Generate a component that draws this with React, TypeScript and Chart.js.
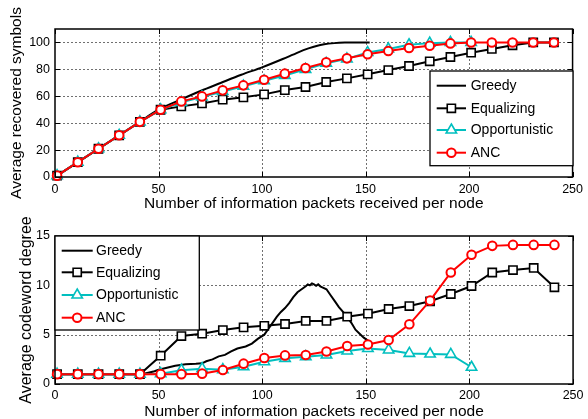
import React, { useEffect, useRef } from 'react';
import { Chart, registerables } from 'chart.js';

Chart.register(...registerables);

// ---------------- data ----------------
const xMarks = [1, 11, 21, 31, 41, 51, 61, 71, 81, 91, 101, 111, 121, 131, 141, 151, 161, 171, 181, 191, 201, 211, 221, 231, 241];
const xMarksOpp = [1, 11, 21, 31, 41, 51, 61, 71, 81, 91, 101, 111, 121, 131, 141, 151, 161, 171, 181, 191, 201];

const seriesNames = ['Greedy', 'Equalizing', 'Opportunistic', 'ANC'];

// top panel: average recovered symbols
const topEqualizing = [1, 11, 21, 31, 41, 50, 52.5, 54.7, 57.5, 59.2, 61.4, 64.6, 66.9, 70.6, 73.3, 76.3, 79.5, 82.5, 86, 89.2, 92.4, 95.2, 97.9, 100, 100];
const topOpportunistic = [1, 11, 21, 31, 41, 50, 55.5, 59.5, 63.5, 67.5, 71.5, 75.5, 80, 84.5, 87.8, 92.5, 95.2, 98.3, 99.5, 100, 100];
const topANC = [1, 11, 21, 31, 41, 50, 56.2, 59.9, 64.4, 68.1, 72.3, 76.8, 81, 85.2, 88.2, 91.2, 93.7, 95.9, 97.6, 99.3, 100, 100, 100, 100, 100];
const topGreedyX = [1, 10, 20, 30, 40, 50, 60, 70, 80, 90, 100, 110, 115, 120, 125, 130, 135, 140, 145, 152];
const topGreedyY = [1, 10, 20, 30, 40, 50, 57, 63.7, 69.9, 76, 81.5, 87.7, 91, 94.3, 96.8, 98.6, 99.5, 99.9, 100, 100];

// bottom panel: average codeword degree
const botEqualizing = [1, 1, 1, 1, 1, 2.87, 4.86, 5.1, 5.47, 5.74, 5.9, 6.08, 6.39, 6.39, 6.82, 7.13, 7.6, 7.9, 8.38, 9.12, 9.93, 11.3, 11.55, 11.76, 9.8];
const botOpportunistic = [1, 1, 1, 1, 1, 1.05, 1.4, 1.55, 1.45, 1.75, 2.26, 2.6, 2.77, 2.94, 3.34, 3.6, 3.45, 3.1, 3.04, 3.0, 1.7];
const botANC = [1, 1, 1, 1, 1, 1, 1, 1.05, 1.42, 2.06, 2.64, 2.9, 2.94, 3.3, 3.85, 4.0, 4.46, 6.05, 8.45, 11.3, 13.1, 14.0, 14.1, 14.1, 14.1];
const botGreedyX = [1, 10, 20, 30, 40, 42, 45, 48, 50, 54, 58, 63, 68, 71, 73, 76, 79, 82, 85, 88, 92, 95, 98, 101, 103, 105, 107, 109, 111, 113, 115, 117, 119, 121, 122, 123, 124, 125, 126, 127, 128, 129, 131, 133, 135, 137, 139, 141, 143, 145, 147, 149, 151, 152];
const botGreedyY = [1, 1, 1, 1, 1, 1, 1.15, 1.3, 1.45, 1.65, 1.85, 2.0, 2.05, 2.1, 2.3, 2.5, 2.8, 2.95, 3.3, 3.6, 3.8, 4.1, 4.6, 5.0, 5.6, 6.2, 6.8, 7.3, 7.7, 8.2, 8.8, 9.3, 9.6, 9.9, 10.1, 10.0, 10.2, 10.1, 9.95, 10.1, 9.9, 9.8, 9.6, 9.0, 8.4, 7.8, 7.3, 6.8, 6.2, 5.5, 5.1, 4.7, 4.4, 4.3];

const xTicks = [0, 50, 100, 150, 200, 250];
const topYTicks = [0, 20, 40, 60, 80, 100];
const botYTicks = [0, 5, 10, 15];

const xTitle = 'Number of information packets received per node';
const topYTitle = 'Average recovered symbols';
const botYTitle = 'Average codeword degree';

// ---------------- styles ----------------
const FONT = "'Liberation Sans', Arial, Helvetica, sans-serif";
const BLACK = '#000000';
const CYAN = '#00bfbf';
const RED = '#ff0000';

type Style = { color: string; marker: string | false; radius: number; mWidth: number };
const styles: Style[] = [
  { color: BLACK, marker: false, radius: 0, mWidth: 0 },
  { color: BLACK, marker: 'rect', radius: 5.8, mWidth: 1.6 },
  { color: CYAN, marker: 'triangle', radius: 6, mWidth: 1.6 },
  { color: RED, marker: 'circle', radius: 4.3, mWidth: 2 },
];

const pts = (xs: number[], ys: number[]) => xs.map((x, i) => ({ x, y: ys[i] }));

function makeDataset(idx: number, data: { x: number; y: number }[], tension = 0) {
  const s = styles[idx];
  return {
    label: seriesNames[idx],
    data,
    order: 3 - idx,
    borderColor: s.color,
    borderWidth: 2,
    backgroundColor: '#ffffff',
    pointStyle: s.marker || 'circle',
    pointRadius: s.marker ? s.radius : 0,
    pointBorderWidth: s.mWidth,
    pointBorderColor: s.color,
    pointBackgroundColor: '#ffffff',
    tension,
    cubicInterpolationMode: tension ? 'monotone' : 'default',
    clip: false,
    fill: false,
  };
}

function drawMarker(ctx: CanvasRenderingContext2D, s: Style, x: number, y: number) {
  if (!s.marker) return;
  ctx.save();
  ctx.lineWidth = s.mWidth;
  ctx.strokeStyle = s.color;
  ctx.fillStyle = '#ffffff';
  ctx.setLineDash([]);
  ctx.beginPath();
  const r = s.radius;
  if (s.marker === 'circle') {
    ctx.arc(x, y, r, 0, Math.PI * 2);
  } else if (s.marker === 'rect') {
    const h = r * Math.SQRT1_2;
    ctx.rect(x - h, y - h, 2 * h, 2 * h);
  } else if (s.marker === 'triangle') {
    for (let k = 0; k < 3; k++) {
      const a = (k * 2 * Math.PI) / 3;
      const px = x + Math.sin(a) * r;
      const py = y - Math.cos(a) * r;
      if (k === 0) ctx.moveTo(px, py);
      else ctx.lineTo(px, py);
    }
    ctx.closePath();
  }
  ctx.fill();
  ctx.stroke();
  ctx.restore();
}

type LegendCfg = { left: number; top: number; right: number; bottom: number; rows: number[]; x1: number; x2: number; tx: number };

function drawGrid(chart: any, xs: number[], ys: number[]) {
  const { ctx, chartArea: a, scales } = chart;
  ctx.save();
  ctx.globalCompositeOperation = 'destination-over';
  ctx.strokeStyle = '#707070';
  ctx.lineWidth = 1;
  ctx.setLineDash([2, 2]);
  ctx.beginPath();
  for (const v of xs) {
    const px = Math.round(scales.x.getPixelForValue(v)) + 0.5;
    if (px <= a.left + 1 || px >= a.right - 1) continue;
    ctx.moveTo(px, a.bottom);
    ctx.lineTo(px, a.top);
  }
  for (const v of ys) {
    const py = Math.round(scales.y.getPixelForValue(v)) + 0.5;
    if (py <= a.top + 1 || py >= a.bottom - 1) continue;
    ctx.moveTo(a.left, py);
    ctx.lineTo(a.right, py);
  }
  ctx.stroke();
  ctx.restore();
}

const framePlugin = {
  id: 'matlabFrame',
  afterDraw(chart: any, _args: any, opts: any) {
    drawGrid(chart, xTicks, opts.yTickList);
    const { ctx, chartArea: a, scales } = chart;
    ctx.save();
    ctx.globalCompositeOperation = 'source-over';
    ctx.setLineDash([]);
    ctx.strokeStyle = BLACK;
    ctx.lineWidth = 1;
    const tl = 5;
    ctx.beginPath();
    for (const v of xTicks) {
      const px = Math.round(scales.x.getPixelForValue(v)) + 0.5;
      ctx.moveTo(px, a.bottom);
      ctx.lineTo(px, a.bottom - tl);
      ctx.moveTo(px, a.top);
      ctx.lineTo(px, a.top + tl);
    }
    for (const v of opts.yTickList) {
      const py = Math.round(scales.y.getPixelForValue(v)) + 0.5;
      ctx.moveTo(a.left, py);
      ctx.lineTo(a.left + tl, py);
      ctx.moveTo(a.right, py);
      ctx.lineTo(a.right - tl, py);
    }
    ctx.stroke();
    ctx.lineWidth = 1.5;
    ctx.strokeRect(a.left, a.top, a.right - a.left, a.bottom - a.top);

    // legend
    const L: LegendCfg = opts.legend;
    const lx = a.left + L.left;
    const ly = a.top + L.top;
    const lw = L.right - L.left;
    const lh = L.bottom - L.top;
    ctx.fillStyle = '#ffffff';
    ctx.fillRect(lx, ly, lw, lh);
    ctx.lineWidth = 1.3;
    ctx.strokeStyle = BLACK;
    ctx.strokeRect(lx, ly, lw, lh);
    ctx.font = `14px ${FONT}`;
    ctx.textBaseline = 'middle';
    ctx.textAlign = 'left';
    seriesNames.forEach((name, i) => {
      const s = styles[i];
      const y = a.top + L.rows[i];
      ctx.beginPath();
      ctx.strokeStyle = s.color;
      ctx.lineWidth = 2;
      ctx.moveTo(a.left + L.x1, y);
      ctx.lineTo(a.left + L.x2, y);
      ctx.stroke();
      drawMarker(ctx, s, a.left + (L.x1 + L.x2) / 2, y);
      ctx.fillStyle = BLACK;
      ctx.fillText(name, a.left + L.tx, y + 0.5);
    });
    ctx.restore();
  },
};

function makeConfig(p: {
  datasets: any[];
  yMax: number;
  yTicks: number[];
  yTitle: string;
  yTitlePad: number;
  yTitleSize: number;
  padTop: number;
  xAxisH: number;
  xTickPad: number;
  xTitlePad: number;
  legend: LegendCfg;
}) {
  return {
    type: 'line',
    data: { datasets: p.datasets },
    options: {
      animation: false,
      responsive: false,
      devicePixelRatio: 1,
      events: [],
      layout: { padding: { left: 0, top: p.padTop, right: 12, bottom: 0 } },
      plugins: {
        legend: { display: false },
        tooltip: { enabled: false },
        matlabFrame: { yTickList: p.yTicks, legend: p.legend },
      },
      scales: {
        x: {
          type: 'linear',
          min: 0,
          max: 250,
          afterBuildTicks: (scale: any) => {
            scale.ticks = xTicks.map((v) => ({ value: v }));
          },
          afterFit: (scale: any) => {
            scale.height = p.xAxisH;
          },
          grid: { display: false, drawTicks: false },
          border: { display: false },
          ticks: { color: BLACK, padding: p.xTickPad, font: { family: FONT, size: 12.5 }, maxRotation: 0, autoSkip: false },
          title: {
            display: true,
            text: xTitle,
            color: BLACK,
            font: { family: FONT, size: 15.5, lineHeight: 1 },
            padding: { top: 0, bottom: p.xTitlePad },
          },
        },
        y: {
          type: 'linear',
          min: 0,
          max: p.yMax,
          afterBuildTicks: (scale: any) => {
            scale.ticks = p.yTicks.map((v) => ({ value: v }));
          },
          afterFit: (scale: any) => {
            scale.width = 55;
          },
          grid: { display: false, drawTicks: false },
          border: { display: false },
          ticks: { color: BLACK, padding: 5, font: { family: FONT, size: 12.5 } },
          title: {
            display: true,
            text: p.yTitle,
            color: BLACK,
            font: { family: FONT, size: p.yTitleSize },
            padding: { top: p.yTitlePad, bottom: 0 },
          },
        },
      },
    },
    plugins: [framePlugin],
  };
}

export default function App() {
  const topRef = useRef<HTMLCanvasElement>(null);
  const botRef = useRef<HTMLCanvasElement>(null);

  useEffect(() => {
    const topCfg: any = makeConfig({
      datasets: [
        makeDataset(0, pts(topGreedyX, topGreedyY), 0.35),
        makeDataset(1, pts(xMarks, topEqualizing)),
        makeDataset(2, pts(xMarksOpp, topOpportunistic)),
        makeDataset(3, pts(xMarks, topANC)),
      ],
      yMax: 110,
      yTicks: topYTicks,
      yTitle: topYTitle,
      yTitlePad: 7.5,
      yTitleSize: 15.5,
      padTop: 29,
      xAxisH: 33,
      xTickPad: 5,
      xTitlePad: -1,
      legend: { left: 375, top: 42, right: 518, bottom: 136.7, rows: [56.7, 79.3, 101, 123.7], x1: 381.7, x2: 411, tx: 415.7 },
    });
    const botCfg: any = makeConfig({
      datasets: [
        makeDataset(0, pts(botGreedyX, botGreedyY)),
        makeDataset(1, pts(xMarks, botEqualizing)),
        makeDataset(2, pts(xMarksOpp, botOpportunistic)),
        makeDataset(3, pts(xMarks, botANC)),
      ],
      yMax: 15,
      yTicks: botYTicks,
      yTitle: botYTitle,
      yTitlePad: 17,
      yTitleSize: 16,
      padTop: 26,
      xAxisH: 35,
      xTickPad: 4.5,
      xTitlePad: 0,
      legend: { left: 0, top: 0, right: 144.3, bottom: 94, rows: [14.7, 36.3, 59, 81.7], x1: 6.7, x2: 37.7, tx: 41 },
    });
    const c1 = new Chart(topRef.current as HTMLCanvasElement, topCfg);
    const c2 = new Chart(botRef.current as HTMLCanvasElement, botCfg);
    return () => {
      c1.destroy();
      c2.destroy();
    };
  }, []);

  return (
    <div style={{ position: 'absolute', left: 0, top: 0, width: 588, height: 419, background: '#ffffff' }}>
      <canvas ref={topRef} width={588} height={210} style={{ position: 'absolute', left: 0, top: 0 }} />
      <canvas ref={botRef} width={588} height={209} style={{ position: 'absolute', left: 0, top: 210 }} />
    </div>
  );
}
